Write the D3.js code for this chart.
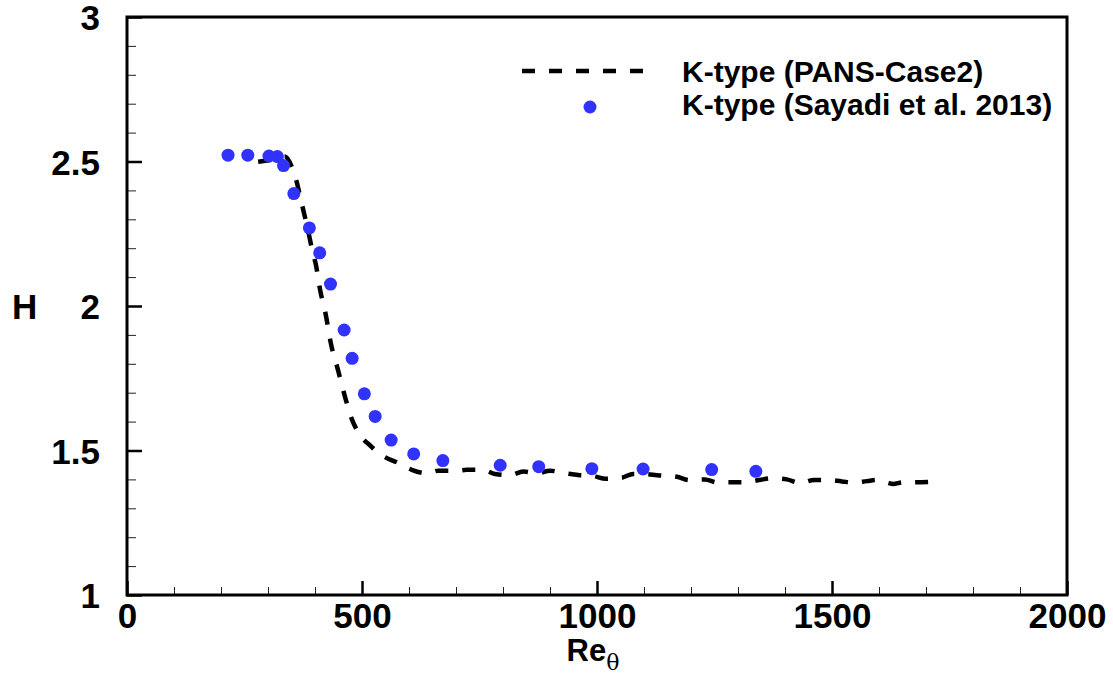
<!DOCTYPE html>
<html>
<head>
<meta charset="utf-8">
<script src="https://cdn.jsdelivr.net/npm/d3@7"></script>
<style>
  body { margin: 0; background: #fff; }
  svg text { font-family: "Liberation Sans", Arial, sans-serif; }
</style>
</head>
<body>
<div id="chart"></div>
<script>
// PANS-Case2 (dashed line)
const pans_re = [279, 304, 336, 351, 360, 372, 385, 394, 402, 411, 423, 434, 449, 464, 479, 489, 521, 545, 577, 606, 638, 662, 698, 723, 757, 783, 815, 843, 872, 900, 934, 960, 991, 1019, 1053, 1077, 1113, 1138, 1170, 1196, 1230, 1255, 1287, 1315, 1345, 1374, 1404, 1432, 1462, 1489, 1521, 1547, 1574, 1596, 1617, 1630, 1651, 1672, 1713];
const pans_h = [2.499, 2.505, 2.517, 2.48, 2.436, 2.353, 2.263, 2.194, 2.142, 2.055, 1.969, 1.869, 1.778, 1.685, 1.606, 1.571, 1.512, 1.481, 1.457, 1.433, 1.421, 1.430, 1.430, 1.433, 1.433, 1.419, 1.415, 1.427, 1.421, 1.430, 1.421, 1.415, 1.412, 1.402, 1.406, 1.419, 1.417, 1.413, 1.409, 1.398, 1.400, 1.390, 1.390, 1.390, 1.398, 1.404, 1.400, 1.387, 1.398, 1.398, 1.393, 1.389, 1.394, 1.398, 1.389, 1.384, 1.390, 1.390, 1.392];

// Sayadi et al. 2013 (points)
const sayadi_re = [215, 257, 302, 320, 333, 355, 388, 410, 433, 462, 479, 505, 528, 562, 610, 672, 794, 876, 989, 1098, 1244, 1338];
const sayadi_h = [2.522, 2.522, 2.519, 2.517, 2.486, 2.389, 2.270, 2.184, 2.076, 1.917, 1.819, 1.696, 1.618, 1.536, 1.488, 1.465, 1.449, 1.444, 1.437, 1.436, 1.434, 1.428];

const x_major = [0, 500, 1000, 1500, 2000];
const y_major = [1, 1.5, 2, 2.5, 3];
const legend_labels = ["K-type (PANS-Case2)", "K-type (Sayadi et al. 2013)"];

const pans = pans_re.map((d, i) => ({re: d, h: pans_h[i]}));
const sayadi = sayadi_re.map((d, i) => ({re: d, h: sayadi_h[i]}));

const margin = {top: 17, right: 46, bottom: 82, left: 127},
  width = 1113 - margin.left - margin.right,
  height = 677 - margin.top - margin.bottom;

const svg = d3.select("#chart")
  .append("svg")
  .attr("width", 1113)
  .attr("height", 677)
  .append("g")
  .attr("transform", `translate(${margin.left},${margin.top})`);

const x = d3.scaleLinear().domain([0, 2000]).range([0, width]);
const y = d3.scaleLinear().domain([1, 3]).range([height, 0]);

// minor ticks (inside)
const x_minor = d3.range(0, 2001, 100).filter(v => v % 500 !== 0);
const y_minor = d3.range(10, 31).map(v => v / 10).filter(v => Math.round(v * 10) % 5 !== 0);

const xAxis = svg.append("g")
  .attr("transform", `translate(0,${height})`);
xAxis.append("g")
  .call(d3.axisBottom(x).tickValues(x_minor).tickSize(-8).tickFormat(""))
  .call(g => g.select(".domain").remove())
  .call(g => g.selectAll("line").attr("stroke", "#222").attr("stroke-width", 1));
xAxis.append("g")
  .call(d3.axisBottom(x).tickValues(x_major).tickSize(-14).tickPadding(10).tickFormat(d3.format("d")))
  .call(g => g.select(".domain").remove())
  .call(g => g.selectAll("line").attr("stroke", "#000").attr("stroke-width", 2.5))
  .call(g => g.selectAll("text")
    .attr("y", 33).attr("dy", 0)
    .attr("fill", "#000")
    .style("font-size", "35px").style("font-weight", "bold"));

const yAxis = svg.append("g");
yAxis.append("g")
  .call(d3.axisLeft(y).tickValues(y_minor).tickSize(-9).tickFormat(""))
  .call(g => g.select(".domain").remove())
  .call(g => g.selectAll("line").attr("stroke", "#222").attr("stroke-width", 1));
yAxis.append("g")
  .call(d3.axisLeft(y).tickValues(y_major).tickSize(-15).tickFormat(d3.format("")))
  .call(g => g.select(".domain").remove())
  .call(g => g.selectAll("line").attr("stroke", "#000").attr("stroke-width", 2.5))
  .call(g => g.selectAll("text")
    .attr("x", -27).attr("dy", "0.36em")
    .attr("fill", "#000")
    .style("font-size", "35px").style("font-weight", "bold"));

// frame
svg.append("rect")
  .attr("x", 0).attr("y", 0)
  .attr("width", width).attr("height", height)
  .attr("fill", "none")
  .attr("stroke", "#000")
  .attr("stroke-width", 3);

// dashed line
svg.append("path")
  .datum(pans)
  .attr("fill", "none")
  .attr("stroke", "#000")
  .attr("stroke-width", 4.5)
  .attr("stroke-dasharray", "13,14")
  .attr("d", d3.line()
    .x(d => x(d.re))
    .y(d => y(d.h))
    .curve(d3.curveMonotoneX));

// points
svg.selectAll("circle.pt")
  .data(sayadi)
  .join("circle")
  .attr("class", "pt")
  .attr("cx", d => x(d.re))
  .attr("cy", d => y(d.h))
  .attr("r", 6.5)
  .attr("fill", "#3232ff");

// axis titles
svg.append("text")
  .attr("x", width / 2 - 4)
  .attr("y", height + 66)
  .attr("text-anchor", "middle")
  .style("font-size", "31px").style("font-weight", "bold")
  .text("Re")
  .append("tspan")
  .attr("dy", 9)
  .style("font-size", "22px").style("font-weight", "normal")
  .style("font-family", "'DejaVu Serif', serif")
  .text("θ");

svg.append("text")
  .attr("x", 12 - margin.left)
  .attr("y", y(2))
  .attr("dy", "0.36em")
  .style("font-size", "35px").style("font-weight", "bold")
  .text("H");

// legend
const legend = svg.append("g").attr("transform", `translate(${522 - margin.left},${71 - margin.top})`);
legend.append("line")
  .attr("x1", 0).attr("x2", 125)
  .attr("y1", 0).attr("y2", 0)
  .attr("stroke", "#000")
  .attr("stroke-width", 4.5)
  .attr("stroke-dasharray", "13,14");
legend.append("circle")
  .attr("cx", 68).attr("cy", 36)
  .attr("r", 6.5)
  .attr("fill", "#3232ff");
legend.selectAll("text")
  .data(legend_labels)
  .join("text")
  .attr("x", 160)
  .attr("y", (d, i) => 11 + i * 33)
  .style("font-size", "30px").style("font-weight", "bold")
  .text(d => d);
</script>
</body>
</html>
